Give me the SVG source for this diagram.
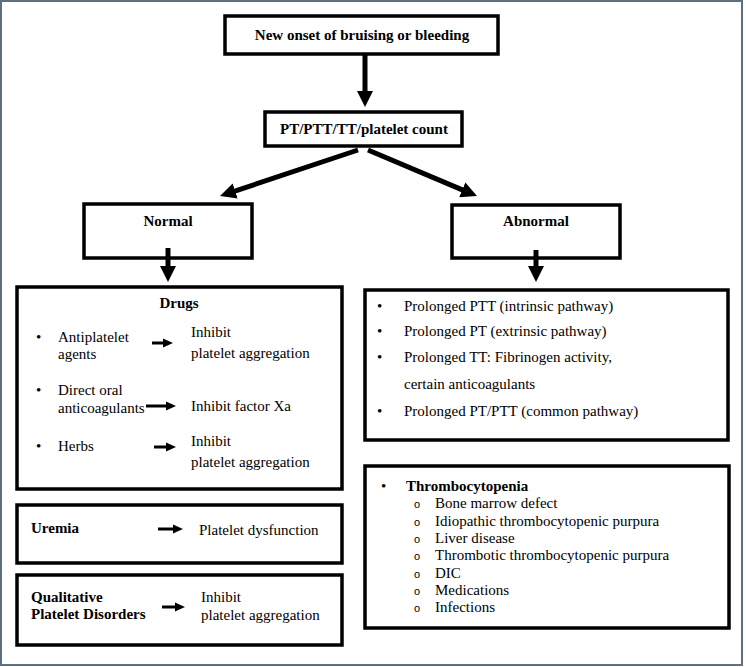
<svg xmlns="http://www.w3.org/2000/svg" width="746" height="667" viewBox="0 0 746 667">
<style>
.box{fill:#fff;stroke:#000;stroke-width:3.5}
.t{font-family:"Liberation Serif","Times New Roman",serif;font-size:15px;fill:#000}
.b{font-weight:bold}
.c{text-anchor:middle}
.big{stroke:#000;stroke-width:5;fill:none}
.sm{stroke:#000;stroke-width:3;fill:none}
.o{font-family:"Liberation Sans",Arial,sans-serif;font-size:11px;fill:#000}
</style>
<defs>
<marker id="ah" markerUnits="userSpaceOnUse" markerWidth="16" markerHeight="16" refX="2" refY="8" orient="auto"><path d="M0,0 L16,8 L0,16 z" fill="#000"/></marker>
<marker id="as" markerUnits="userSpaceOnUse" markerWidth="10" markerHeight="10" refX="1" refY="5" orient="auto"><path d="M0,0.5 L10,5 L0,9.5 z" fill="#000"/></marker>
</defs>
<rect x="0" y="0" width="746" height="667" fill="#fff"/>
<rect x="1" y="1" width="741" height="664" fill="none" stroke="#5d7080" stroke-width="2"/>

<g id="n-onset">
<rect class="box" x="225" y="16" width="273" height="38"/>
<text class="t b c" x="362" y="40">New onset of bruising or bleeding</text>
</g>
<g id="n-tests">
<rect class="box" x="265" y="112" width="197" height="34"/>
<text class="t b c" x="364" y="134">PT/PTT/TT/platelet count</text>
</g>
<g id="n-normal">
<rect class="box" x="84" y="204" width="168" height="54"/>
<text class="t b c" x="168" y="226">Normal</text>
</g>
<g id="n-abnormal">
<rect class="box" x="452" y="205" width="168" height="53"/>
<text class="t b c" x="536" y="226">Abnormal</text>
</g>
<g id="n-drugs">
<rect class="box" x="17" y="287" width="325" height="202"/>
<text class="t b c" x="179" y="308">Drugs</text>
<text class="t" x="36" y="342">•</text>
<text class="t" x="58" y="342">Antiplatelet</text>
<text class="t" x="58" y="359">agents</text>
<text class="t" x="191" y="337">Inhibit</text>
<text class="t" x="191" y="358">platelet aggregation</text>
<text class="t" x="36" y="395">•</text>
<text class="t" x="58" y="395">Direct oral</text>
<text class="t" x="58" y="413">anticoagulants</text>
<text class="t" x="191" y="411">Inhibit factor Xa</text>
<text class="t" x="36" y="451">•</text>
<text class="t" x="58" y="451">Herbs</text>
<text class="t" x="191" y="446">Inhibit</text>
<text class="t" x="191" y="467">platelet aggregation</text>
</g>
<g id="n-uremia">
<rect class="box" x="17" y="505" width="325" height="58"/>
<text class="t b" x="31" y="533">Uremia</text>
<text class="t" x="199" y="535">Platelet dysfunction</text>
</g>
<g id="n-qual">
<rect class="box" x="17" y="575" width="325" height="70"/>
<text class="t b" x="31" y="602">Qualitative</text>
<text class="t b" x="31" y="619">Platelet Disorders</text>
<text class="t" x="201" y="602">Inhibit</text>
<text class="t" x="201" y="620">platelet aggregation</text>
</g>
<g id="n-prolonged">
<rect class="box" x="365" y="290" width="363" height="150"/>
<text class="t" x="377" y="311">•</text>
<text class="t" x="404" y="311">Prolonged PTT (intrinsic pathway)</text>
<text class="t" x="377" y="336">•</text>
<text class="t" x="404" y="336">Prolonged PT (extrinsic pathway)</text>
<text class="t" x="377" y="362">•</text>
<text class="t" x="404" y="362">Prolonged TT: Fibrinogen activity,</text>
<text class="t" x="404" y="389">certain anticoagulants</text>
<text class="t" x="377" y="416">•</text>
<text class="t" x="404" y="416">Prolonged PT/PTT (common pathway)</text>
</g>
<g id="n-thrombo">
<rect class="box" x="365" y="466" width="364" height="162"/>
<text class="t" x="381" y="491">•</text>
<text class="t b" x="406" y="491">Thrombocytopenia</text>
<text class="o" x="414" y="508">o</text>
<text class="t" x="435" y="508">Bone marrow defect</text>
<text class="o" x="414" y="526">o</text>
<text class="t" x="435" y="526">Idiopathic thrombocytopenic purpura</text>
<text class="o" x="414" y="543">o</text>
<text class="t" x="435" y="543">Liver disease</text>
<text class="o" x="414" y="560">o</text>
<text class="t" x="435" y="560">Thrombotic thrombocytopenic purpura</text>
<text class="o" x="414" y="578">o</text>
<text class="t" x="435" y="578">DIC</text>
<text class="o" x="414" y="595">o</text>
<text class="t" x="435" y="595">Medications</text>
<text class="o" x="414" y="612">o</text>
<text class="t" x="435" y="612">Infections</text>
</g>

<g id="connectors">
<line class="big" x1="365" y1="54" x2="365" y2="93" marker-end="url(#ah)"/>
<line class="big" x1="358" y1="150" x2="233.3" y2="191.6" marker-end="url(#ah)"/>
<line class="big" x1="368" y1="150" x2="464.1" y2="190.6" marker-end="url(#ah)"/>
<line class="big" x1="168" y1="248" x2="168" y2="268" marker-end="url(#ah)"/>
<line class="big" x1="536" y1="250" x2="536" y2="268" marker-end="url(#ah)"/>
<line class="sm" x1="152" y1="343" x2="164" y2="343" marker-end="url(#as)"/>
<line class="sm" x1="146" y1="406" x2="167" y2="406" marker-end="url(#as)"/>
<line class="sm" x1="154" y1="447" x2="167" y2="447" marker-end="url(#as)"/>
<line class="sm" x1="158" y1="529" x2="174" y2="529" marker-end="url(#as)"/>
<line class="sm" x1="162" y1="607" x2="176" y2="607" marker-end="url(#as)"/>
</g>
</svg>
